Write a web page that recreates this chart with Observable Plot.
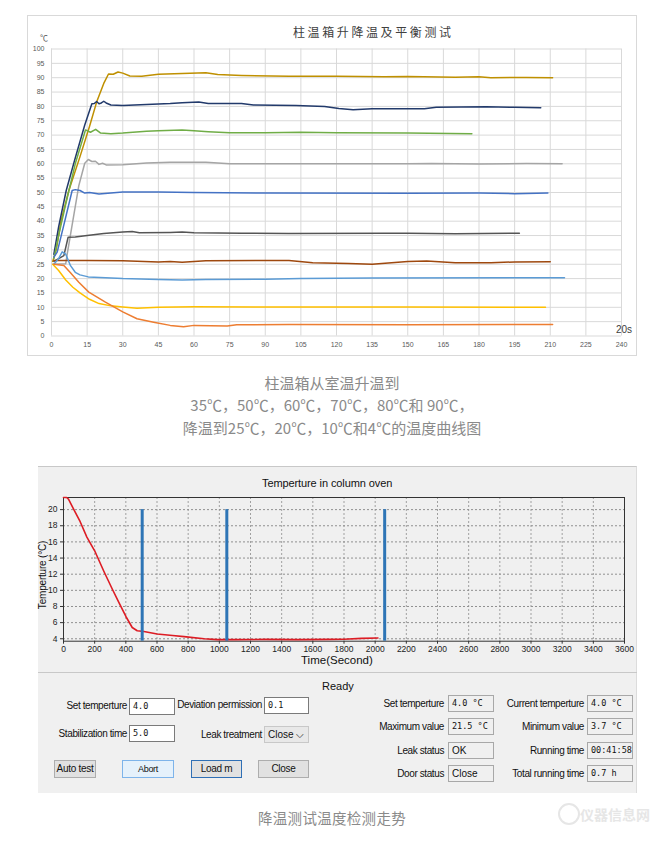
<!DOCTYPE html>
<html><head><meta charset="utf-8">
<script src="https://cdn.jsdelivr.net/npm/d3@7"></script>
<script src="https://cdn.jsdelivr.net/npm/@observablehq/plot@0.6"></script>
<style>
body{margin:0;background:#fff;}
#root{position:relative;width:664px;height:841px;overflow:hidden;font-family:"Liberation Sans",Arial,sans-serif;background:#fff;}
.abs{position:absolute;white-space:nowrap;}
.cap{position:absolute;left:0;width:664px;text-align:center;font-family:"Noto Sans CJK SC",sans-serif;font-size:15px;color:#8a8a8a;line-height:20px;}
.lbl{position:absolute;font-size:10px;color:#111;text-align:right;letter-spacing:-0.4px;white-space:nowrap;height:14px;line-height:14px;}
.box{position:absolute;box-sizing:border-box;border:1px solid #7a7a7a;background:#fff;font-size:8.5px;font-family:"DejaVu Sans Mono",monospace;padding-left:3px;line-height:15px;height:17px;white-space:nowrap;color:#111;}
.rbox{background:#f0f0f0;border:1px solid #a8a8a8;}
.btn{position:absolute;box-sizing:border-box;border:1px solid #adadad;background:#e1e1e1;font-size:10px;text-align:center;line-height:16px;height:18px;letter-spacing:-0.3px;color:#111;}
</style></head>
<body><div id="root"></div>
<script>
// ---------- Chart 1 data (time in 20 s units, temperature in °C) ----------
const xTicks1 = d3.range(0, 241, 15);
const yTicks1 = d3.range(0, 101, 5);
const s90 = [[0.5,26],[2,30],[4,40],[7.3,50.7],[12,62.5],[16,73],[19,81.5],[22,88],[24,91.3],[26,91.2],[28,92],[30,91.6],[33,90.6],[38,90.5],[45,91.2],[55,91.5],[65,91.7],[70,91.1],[80,90.8],[100,90.5],[120,90.5],[140,90.3],[150,90.4],[170,90.2],[180,90.3],[185,90],[200,90.1],[211,90]];
const s80 = [[1,28.5],[3,38],[6.2,50.7],[10,62],[14,73.5],[17,80.9],[18,81],[19,81.7],[20,80.9],[21,81.2],[22,81.8],[23,81.2],[25,80.5],[30,80.3],[40,80.7],[50,81],[55,81.3],[62,81.5],[66,81],[80,81],[85,80.5],[103,80.3],[115,80],[121,79.3],[127,78.8],[135,79.2],[157,79.2],[162,79.7],[183,79.9],[195,79.7],[206,79.5]];
const s70 = [[1,27],[3,35],[6,46],[10,60],[14.3,71.8],[16.4,71],[18.6,72],[20.7,70.7],[25,70.5],[30,70.7],[40,71.3],[45,71.5],[55,71.8],[60,71.5],[66,71.2],[75,70.8],[90,70.8],[105,71],[120,70.8],[150,70.7],[177,70.5]];
const s60 = [[0.5,25],[6,25.2],[6.5,28],[11.5,52.4],[14,60.2],[15.5,61.5],[17,60.8],[18.5,60.9],[20,59.8],[21.5,60.2],[23,59.6],[30,59.7],[40,60.3],[50,60.5],[65,60.5],[75,60],[100,60],[150,60],[160,60.1],[180,59.9],[200,60.1],[215,60]];
const s50 = [[1,27.5],[2.4,29.2],[5,38],[8.7,50.7],[10,51],[12,50.7],[14,49.8],[16,50],[20,49.5],[30,50.2],[45,50.2],[60,50],[90,49.8],[150,49.7],[180,49.8],[195,49.6],[209,49.8]];
const s35 = [[1,26],[5.2,28],[7,34.4],[10,34.5],[15,35],[22,35.7],[30,36.2],[34,36.4],[37,36],[50,36.1],[55,36.2],[60,36],[80,35.8],[100,35.7],[140,35.8],[150,35.8],[170,35.6],[197,35.8]];
const s25 = [[1,26.3],[15,26.3],[30,26.2],[45,25.8],[50,26],[55,25.7],[65,26.2],[90,26.3],[100,26.3],[110,25.5],[125,25.3],[135,25],[150,26],[158,26.1],[170,25.5],[185,25.5],[195,25.8],[210,25.9]];
const s20 = [[1,25],[3,27],[4.5,29.3],[6,28.5],[8,24.5],[10,22.2],[12,21.3],[15.5,20.6],[30,20],[45,19.7],[55,19.5],[65,19.7],[90,19.8],[105,20],[135,20.2],[216,20.3]];
const s10 = [[0.5,25],[3,22.8],[6,19.5],[9,17],[12,15],[16,12.8],[20,11.3],[25,10.5],[30,10.1],[36,9.7],[45,10],[60,10.2],[100,10.1],[150,10.1],[208,10]];
const s04 = [[1,25],[5.2,24.6],[8,22],[11.5,18.7],[15.7,15.3],[22.7,11.8],[30,8.4],[36,6.0],[43,4.8],[50,3.7],[55.6,3.2],[60,3.7],[74,3.5],[78,3.9],[100,4],[150,3.9],[211,4]];
const series1 = [[s90,"#bf9000"],[s80,"#223a6b"],[s70,"#70ad47"],[s60,"#a5a5a5"],[s50,"#4472c4"],[s35,"#555555"],[s25,"#9e480e"],[s20,"#5b9bd5"],[s10,"#ffc000"],[s04,"#ed7d31"]];

// ---------- Chart 2 data (seconds, °C) ----------
const xTicks2 = d3.range(0, 3601, 200);
const yTicks2 = d3.range(4, 21, 2);
const redTemp = [[0,21.5],[20,21.5],[32,21.3],[64,20.1],[107,18.5],[150,16.6],[200,14.9],[258,12.4],[312,10.2],[355,8.5],[402,6.7],[441,5.4],[473,5.0],[516,4.9],[601,4.6],[700,4.4],[773,4.27],[902,4.0],[987,3.9],[1100,3.9],[1300,3.92],[1500,3.9],[1700,3.93],[1800,3.95],[1911,4.05],[2018,4.1]];
const markerTimes = [505, 1048, 2061];

const root = document.getElementById("root");
function el(cls, css, text){ const d=document.createElement("div"); d.className=cls; Object.assign(d.style, css); if(text!==undefined) d.textContent=text; root.appendChild(d); return d; }

// Chart 1 frame
el("abs",{left:"27px",top:"15px",width:"608px",height:"339px",border:"1px solid #d9d9d9"});
const p1 = Plot.plot({
  width:609, height:340, marginLeft:24, marginRight:15, marginTop:33.5, marginBottom:19.5,
  style:{background:"transparent", fontFamily:"Liberation Sans, Arial, sans-serif", fontSize:"7px", color:"#595959", overflow:"visible"},
  x:{domain:[0,240]}, y:{domain:[0,100]},
  marks:[
    Plot.gridX(xTicks1,{stroke:"#d9d9d9", strokeOpacity:1}),
    Plot.gridY(yTicks1,{stroke:"#d9d9d9", strokeOpacity:1}),
    Plot.axisX(xTicks1,{tickSize:0, tickPadding:6, label:null, fill:"#595959", tickFormat:d3.format("d")}),
    Plot.axisY(yTicks1,{tickSize:0, tickPadding:7, label:null, fill:"#595959", tickFormat:d3.format("d")}),
    ...series1.map(([s,c]) => Plot.line(s,{x:d=>d[0], y:d=>d[1], stroke:c, strokeWidth:1.5}))
  ]
});
Object.assign(p1.style,{position:"absolute",left:"27px",top:"15px"});
root.appendChild(p1);
el("abs",{left:"293px",top:"23px",fontFamily:"Noto Sans CJK SC",fontSize:"12px",letterSpacing:"2.6px",color:"#404040",lineHeight:"18px"},"柱温箱升降温及平衡测试");
el("abs",{left:"40px",top:"32px",fontSize:"8px",color:"#595959",fontFamily:"Noto Sans CJK SC"},"℃");
el("abs",{left:"616px",top:"324px",fontSize:"10px",color:"#404040"},"20s");

// Caption 1
el("cap",{top:"373px"},"柱温箱从室温升温到");
el("cap",{top:"395px"},"35℃，50℃，60℃，70℃，80℃和\u00a090℃，");
el("cap",{top:"418px"},"降温到25℃，20℃，10℃和4℃的温度曲线图");

// Chart 2 panel
el("abs",{left:"38px",top:"466px",width:"598px",height:"326px",background:"#f0f0f0",borderTop:"1px solid #c8c8c8",borderRight:"1px solid #dcdcdc"});
el("abs",{left:"38px",top:"672px",width:"599px",height:"1px",background:"#c8c8c8"});
el("abs",{left:"262px",top:"477px",fontSize:"11px",color:"#111",letterSpacing:"-0.1px"},"Temperture in column oven");
const p2 = Plot.plot({
  width:600, height:180, marginLeft:26, marginRight:13, marginTop:7, marginBottom:29.3,
  style:{background:"transparent", fontFamily:"Liberation Sans, Arial, sans-serif", fontSize:"8.5px", color:"#222", overflow:"visible"},
  x:{domain:[0,3600]}, y:{domain:[3.7,21.5]},
  marks:[
    Plot.gridX(xTicks2.filter(v=>v>0&&v<3600),{stroke:"#a0a0a0", strokeOpacity:1, strokeDasharray:"2,2"}),
    Plot.gridY(yTicks2,{stroke:"#909090", strokeOpacity:1, strokeDasharray:"2,2"}),
    Plot.frame({stroke:"#333"}),
    Plot.line(redTemp,{x:d=>d[0], y:d=>d[1], stroke:"#dd1c24", strokeWidth:1.6}),
    Plot.ruleX(markerTimes,{y1:3.7, y2:20, stroke:"#2e75b6", strokeWidth:3}),
    Plot.axisX(xTicks2,{tickSize:3, tickPadding:2, label:null, stroke:"#333", tickFormat:d3.format("d")}),
    Plot.axisY(yTicks2,{tickSize:3, tickPadding:3, label:null, stroke:"#333", tickFormat:d3.format("d")})
  ]
});
Object.assign(p2.style,{position:"absolute",left:"37px",top:"490px"});
root.appendChild(p2);
el("abs",{left:"301px",top:"654px",fontSize:"11.5px",color:"#111"},"Time(Second)");
el("abs",{left:"-2px",top:"568px",width:"90px",textAlign:"center",fontSize:"10px",color:"#111",transform:"rotate(-90deg)",lineHeight:"14px",letterSpacing:"-0.2px"},"Temperture (°C)");

// Control panel
el("abs",{left:"322px",top:"680px",fontSize:"11px",color:"#111"},"Ready");
function label(right, cy, text){ el("lbl",{left:(right-160)+"px",width:"160px",top:(cy-7)+"px"},text); }
function box(left, top, w, text, extra){ const b=el("box"+(extra||""),{left:left+"px",top:top+"px",width:w+"px"},text); return b; }
label(127,706,"Set temperture"); box(129,698,46,"4.0");
label(127,734,"Stabilization time"); box(129,725,46,"5.0");
label(262,705,"Deviation permission"); box(264,697,45,"0.1");
label(262,735,"Leak treatment");
const dd = box(264,726,45,"Close  ⌵"," rbox");
Object.assign(dd.style,{fontFamily:"Liberation Sans, Arial, sans-serif",fontSize:"10px",background:"#e8e8e8",border:"1px solid #c8c8c8"});
el("btn",{left:"54px",top:"760px",width:"42px"},"Auto test");
el("btn",{left:"122px",top:"760px",width:"52px",background:"#e5f1fb",border:"1px solid #7eb4ea",fontSize:"9px"},"Abort");
el("btn",{left:"191px",top:"760px",width:"51px",border:"1.5px solid #2f6fb5"},"Load m");
el("btn",{left:"258px",top:"760px",width:"51px"},"Close");

const rightLabelsA = ["Set temperture","Maximum value","Leak status","Door status"];
const rightValsA = ["4.0 °C","21.5 °C","OK","Close"];
const rightLabelsB = ["Current temperture","Minimum value","Running time","Total running time"];
const rightValsB = ["4.0 °C","3.7 °C","00:41:58","0.7 h"];
const rowTops = [695,718,742,765];
rowTops.forEach((t,i)=>{
  label(444,t+8.5,rightLabelsA[i]);
  const a = box(448,t,46,rightValsA[i]," rbox");
  if(i>=2) Object.assign(a.style,{fontFamily:"Liberation Sans, Arial, sans-serif",fontSize:"10px"});
  label(584,t+8.5,rightLabelsB[i]);
  box(587,t,46,rightValsB[i]," rbox");
});

// Caption 2 + watermark
el("cap",{top:"808px",fontSize:"14.5px",letterSpacing:"0.3px"},"降温测试温度检测走势");
el("abs",{left:"580px",top:"804px",fontFamily:"Noto Sans CJK SC",fontWeight:"bold",fontSize:"14px",color:"#e6e6e6"},"仪器信息网");
el("abs",{left:"558px",top:"803px",width:"18px",height:"18px",borderRadius:"50%",border:"2px solid #e6e6e6"});
</script>
</body></html>
